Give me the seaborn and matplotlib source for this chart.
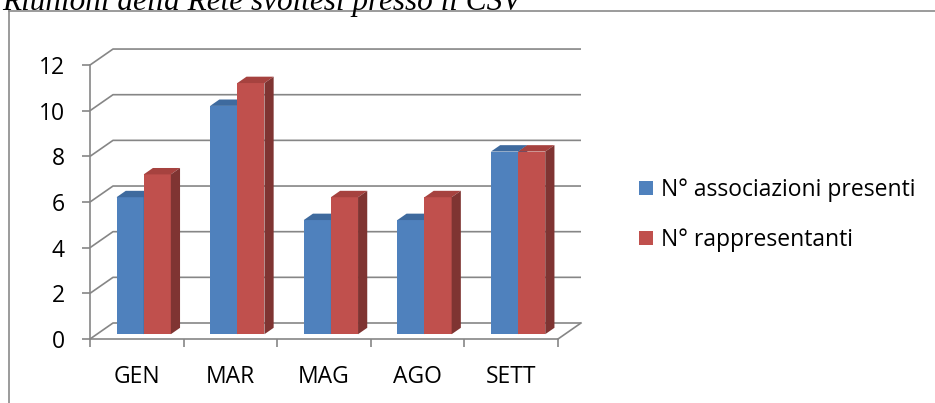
import matplotlib
matplotlib.use("Agg")
import matplotlib.pyplot as plt
from matplotlib.patches import Polygon, Patch
from matplotlib.lines import Line2D
import seaborn as sns
import pandas as pd

# Dati del grafico
mesi = ["GEN", "MAR", "MAG", "AGO", "SETT"]
associazioni = [6, 10, 5, 5, 8]
rappresentanti = [7, 11, 6, 6, 8]
serie = ["N° associazioni presenti", "N° rappresentanti"]
y_ticks = [0, 2, 4, 6, 8, 10, 12]
titolo = "Riunioni della Rete svoltesi presso il CSV"

# colori: fronte, top, lato
colori = {
    serie[0]: ("#4F81BD", "#3E6A9E", "#385D8A"),
    serie[1]: ("#C0504D", "#A6423F", "#7F3432"),
}
grigio = "#868686"

df = pd.DataFrame({
    "mese": mesi * 2,
    "valore": associazioni + rappresentanti,
    "serie": [serie[0]] * len(mesi) + [serie[1]] * len(mesi),
})

W, H = 935, 403
fig = plt.figure(figsize=(W / 100, H / 100), dpi=100)
plt.rcParams["font.family"] = ["Open Sans", "DejaVu Sans"]
fs = 16.5

# assi: x=-0.5 a 90px, 93.6 px per categoria; y=0 a 339px, 22.83 px per unita
px_x, px_y = 93.6, 22.83
ax_left, ax_right, ax_bottom, ax_top = 90, 600, 339, 40
ax = fig.add_axes([ax_left / W, (H - ax_bottom) / H,
                   (ax_right - ax_left) / W, (ax_bottom - ax_top) / H])

sns.barplot(data=df, x="mese", y="valore", hue="serie", palette=[colori[s][0] for s in serie],
            width=0.58, saturation=1, linewidth=0, ax=ax)
if ax.legend_ is not None:
    ax.legend_.remove()

ax.set_xlim(-0.5, -0.5 + (ax_right - ax_left) / px_x)
ax.set_ylim(0, (ax_bottom - ax_top) / px_y)

# profondita 3D
dx = 23 / px_x
dy = 16 / px_y
n = len(mesi)

# pareti e griglia
for v in y_ticks:
    ax.plot([-0.5, -0.5 + dx, n - 0.5 + dx], [v, v + dy, v + dy],
            color=grigio, lw=1.2, zorder=1, clip_on=False, solid_capstyle="butt")
ax.plot([n - 0.5, n - 0.5 + dx], [0, dy], color=grigio, lw=1.2, zorder=1, clip_on=False)

# barre 3D
for k, (cont, s) in enumerate(zip(ax.containers, serie)):
    fronte, top, lato = colori[s]
    for bar in cont:
        bar.set_x(bar.get_x() + 0.3 * dx)
        bar.set_y(bar.get_y() + 0.3 * dy)
        bar.set_zorder(3 + k)
        x0, y0 = bar.get_x(), bar.get_y()
        x1, y1 = x0 + bar.get_width(), y0 + bar.get_height()
        bx, by = 0.4 * dx, 0.4 * dy
        ax.add_patch(Polygon([(x0, y1), (x1, y1), (x1 + bx, y1 + by), (x0 + bx, y1 + by)],
                             closed=True, facecolor=top, edgecolor="none", zorder=3 + k))
        ax.add_patch(Polygon([(x1, y0), (x1 + bx, y0 + by), (x1 + bx, y1 + by), (x1, y1)],
                             closed=True, facecolor=lato, edgecolor="none", zorder=3 + k))

# assi frontali
for side in ["top", "right"]:
    ax.spines[side].set_visible(False)
ax.spines["left"].set_bounds(0, 12)
ax.spines["bottom"].set_bounds(-0.5, n - 0.5)
for side in ["left", "bottom"]:
    ax.spines[side].set_color(grigio)
    ax.spines[side].set_linewidth(1.2)
    ax.spines[side].set_zorder(2)

ax.set_yticks(y_ticks)
ax.set_yticklabels([str(v) for v in y_ticks])
ax.set_xticks(range(n))
ax.set_xticklabels(mesi)
ax.set_xticks([i - 0.5 for i in range(n + 1)], minor=True)
ax.tick_params(axis="y", length=6, width=1.2, color=grigio, pad=12, labelsize=fs)
ax.tick_params(axis="x", which="major", length=0, pad=19, labelsize=fs)
ax.tick_params(axis="x", which="minor", length=6, width=1.2, color=grigio)
ax.set_xlabel("")
ax.set_ylabel("")

# legenda
maniglie = [Patch(facecolor=colori[s][0], edgecolor="none") for s in serie]
fig.legend(maniglie, serie, loc="upper left", bbox_to_anchor=(639 / W, 1 - 178 / H),
           frameon=False, fontsize=fs, borderpad=0, borderaxespad=0,
           handlelength=0.61, handleheight=0.57, handletextpad=0.35, labelspacing=1.15)

# cornice e titolo tagliato
fig.add_artist(Line2D([9 / W, 9 / W], [0, 1 - 11 / H], color="#8A8A8A", lw=1.2))
fig.add_artist(Line2D([9 / W, 1], [1 - 11 / H, 1 - 11 / H], color="#8A8A8A", lw=1.2))
fig.text(2 / W, 1 - 10 / H, titolo, family="Liberation Serif", style="italic",
         fontsize=22.5, va="baseline", ha="left")

fig.savefig("out.png", dpi=100)
